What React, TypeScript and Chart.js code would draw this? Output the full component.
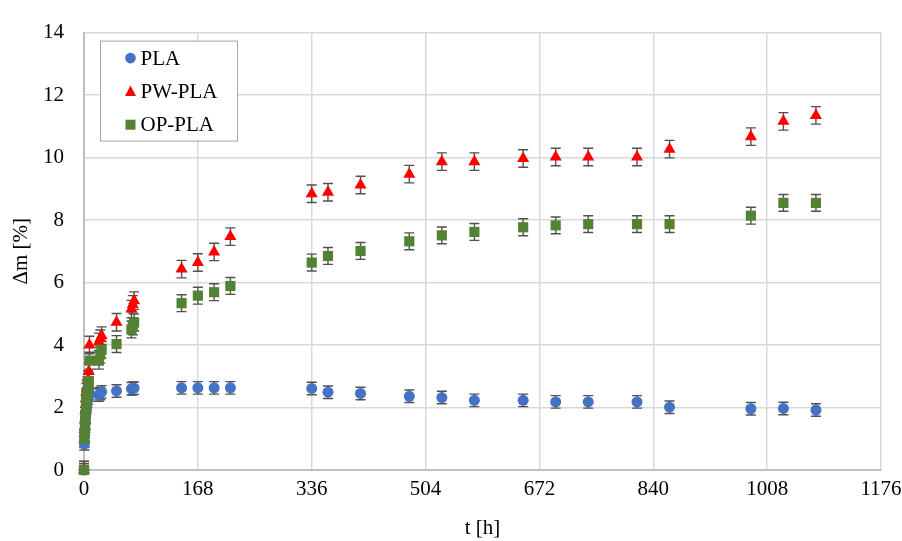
import React, { useEffect, useRef } from "react";
import { Chart, registerables } from "chart.js";

Chart.register(...registerables);

// Sampling times [h]
const timeHours = [
  0, 0.5, 1, 1.5, 2, 2.5, 3, 3.5, 4, 5, 6, 7, 8,
  22, 24, 26, 48, 70, 72, 74,
  144, 168, 192, 216, 336, 360, 408, 480, 528, 576, 648, 696, 744, 816, 864, 984, 1032, 1080,
];

// Mass change Δm [%]
const plaValues = [
  0, 0.84, 1.1, 1.3, 1.5, 1.7, 1.85, 2.0, 2.1, 2.2, 2.3, 2.4, 2.45,
  2.4, 2.45, 2.5, 2.53, 2.6, 2.61, 2.62,
  2.63, 2.63, 2.63, 2.63, 2.61, 2.49, 2.45, 2.36, 2.32, 2.23, 2.23, 2.18, 2.18, 2.18, 2.01, 1.96, 1.97, 1.92,
];
const pwPlaValues = [
  0, 1.0, 1.3, 1.6, 1.9, 2.1, 2.3, 2.5, 2.6, 2.7, 2.9, 3.15, 4.0,
  4.1, 4.2, 4.3, 4.73, 5.15, 5.3, 5.42,
  6.43, 6.64, 6.98, 7.47, 8.84, 8.89, 9.12, 9.47, 9.87, 9.87, 9.97, 10.02, 10.02, 10.02, 10.27, 10.67, 11.16, 11.35,
];
const opPlaValues = [
  0, 1.0, 1.2, 1.4, 1.6, 1.8, 2.0, 2.2, 2.35, 2.5, 2.65, 2.85, 3.5,
  3.5, 3.7, 3.85, 4.03, 4.5, 4.6, 4.72,
  5.34, 5.58, 5.69, 5.89, 6.64, 6.85, 7.01, 7.32, 7.51, 7.62, 7.77, 7.83, 7.87, 7.87, 7.87, 8.14, 8.55, 8.55,
];

// Standard deviations (error bars) per series
const plaError = 0.2;
const pwPlaError = 0.28;
const opPlaError = 0.27;

const seriesNames = ["PLA", "PW-PLA", "OP-PLA"];
const xTicks = [0, 168, 336, 504, 672, 840, 1008, 1176];
const yTicks = [0, 2, 4, 6, 8, 10, 12, 14];

const FONT = '"Liberation Serif", "Times New Roman", serif';
const COLORS = ["#4472C4", "#FF0000", "#548235"];
const STYLES = ["circle", "triangle", "rect"];
const RADII = [5.5, 7, 7.2];
const ERRORS = [plaError, pwPlaError, opPlaError];

const errorBarPlugin = {
  id: "errorBars",
  beforeDatasetsDraw(chart: any) {
    const ctx = chart.ctx;
    const yScale = chart.scales.y;
    ctx.save();
    ctx.strokeStyle = "#505050";
    ctx.lineWidth = 1.4;
    chart.data.datasets.forEach((ds: any, i: number) => {
      const meta = chart.getDatasetMeta(i);
      const err = ERRORS[i];
      meta.data.forEach((el: any, j: number) => {
        const v = ds.data[j].y;
        const x = el.x;
        const yTop = yScale.getPixelForValue(v + err);
        const yBot = yScale.getPixelForValue(Math.max(v - err, yScale.min));
        ctx.beginPath();
        ctx.moveTo(x, yTop);
        ctx.lineTo(x, yBot);
        ctx.moveTo(x - 5, yTop);
        ctx.lineTo(x + 5, yTop);
        if (v - err >= yScale.min) {
          ctx.moveTo(x - 5, yBot);
          ctx.lineTo(x + 5, yBot);
        }
        ctx.stroke();
      });
    });
    ctx.restore();
  },
};

const legendBoxPlugin = {
  id: "legendBox",
  afterDraw(chart: any) {
    const ctx = chart.ctx;
    const area = chart.chartArea;
    const bx = area.left + 16;
    const by = area.top + 8;
    const bw = 137;
    const bh = 100;
    ctx.save();
    ctx.fillStyle = "#FFFFFF";
    ctx.fillRect(bx, by, bw, bh);
    ctx.strokeStyle = "#A6A6A6";
    ctx.lineWidth = 1;
    ctx.strokeRect(bx + 0.5, by + 0.5, bw, bh);
    ctx.font = `21px ${FONT}`;
    ctx.textBaseline = "middle";
    ctx.textAlign = "left";
    seriesNames.forEach((name, i) => {
      const cy = by + 17.5 + i * 33.3;
      const cx = bx + 30.5;
      ctx.fillStyle = COLORS[i];
      ctx.beginPath();
      if (i === 0) {
        ctx.arc(cx, cy, 5.3, 0, Math.PI * 2);
      } else if (i === 1) {
        ctx.moveTo(cx, cy - 6);
        ctx.lineTo(cx + 5.5, cy + 4.5);
        ctx.lineTo(cx - 5.5, cy + 4.5);
        ctx.closePath();
      } else {
        ctx.rect(cx - 5, cy - 5, 10, 10);
      }
      ctx.fill();
      ctx.fillStyle = "#000000";
      ctx.fillText(name, bx + 40.5, cy + 1);
    });
    ctx.restore();
  },
};

export default function App() {
  const canvasRef = useRef<HTMLCanvasElement | null>(null);

  useEffect(() => {
    const canvas = canvasRef.current;
    if (!canvas) return;
    const seriesValues = [plaValues, pwPlaValues, opPlaValues];
    const chart = new Chart(canvas, {
      type: "scatter",
      data: {
        datasets: seriesNames.map((name, i) => ({
          label: name,
          data: timeHours.map((t, j) => ({ x: t, y: seriesValues[i][j] })),
          pointStyle: STYLES[i] as any,
          pointRadius: RADII[i],
          pointHoverRadius: RADII[i],
          backgroundColor: COLORS[i],
          borderColor: COLORS[i],
          borderWidth: 0,
          showLine: false,
          clip: false as any,
          order: 3 - i,
        })),
      },
      options: {
        animation: false,
        responsive: false,
        devicePixelRatio: 1,
        events: [],
        layout: { padding: { left: 0, right: 21, top: 24, bottom: 0 } },
        plugins: {
          legend: { display: false },
          tooltip: { enabled: false },
        },
        scales: {
          x: {
            type: "linear",
            min: 0,
            max: 1176,
            afterBuildTicks: (scale: any) => {
              scale.ticks = xTicks.map((v) => ({ value: v }));
            },
            afterFit: (scale: any) => {
              scale.height = 71;
              scale.paddingRight = 0;
              scale.paddingLeft = 0;
            },
            ticks: {
              padding: 7,
              color: "#000000",
              font: { family: FONT, size: 21 },
              maxRotation: 0,
              autoSkip: false,
              callback: (v: any) => String(v),
            },
            grid: { color: "#D9D9D9", lineWidth: 1.5, drawTicks: false },
            border: { color: "#BFBFBF", width: 2 },
            title: {
              display: true,
              text: "t [h]",
              color: "#000000",
              font: { family: FONT, size: 21 },
              padding: { top: 0, bottom: 0 },
            },
          },
          y: {
            type: "linear",
            min: 0,
            max: 14,
            afterBuildTicks: (scale: any) => {
              scale.ticks = yTicks.map((v) => ({ value: v }));
            },
            afterFit: (scale: any) => {
              scale.width = 84;
            },
            ticks: {
              padding: 20,
              color: "#000000",
              font: { family: FONT, size: 21 },
              callback: (v: any) => String(v),
            },
            grid: { color: "#D9D9D9", lineWidth: 1.5, drawTicks: false },
            border: { color: "#BFBFBF", width: 2 },
            title: {
              display: true,
              text: "Δm [%]",
              color: "#000000",
              font: { family: FONT, size: 21 },
              padding: { top: 9, bottom: 0 },
            },
          },
        },
      },
      plugins: [errorBarPlugin, legendBoxPlugin],
    });
    return () => chart.destroy();
  }, []);

  return (
    <div style={{ position: "fixed", left: 0, top: 0, width: 902, height: 541, background: "#FFFFFF" }}>
      <canvas ref={canvasRef} width={902} height={541} />
    </div>
  );
}
